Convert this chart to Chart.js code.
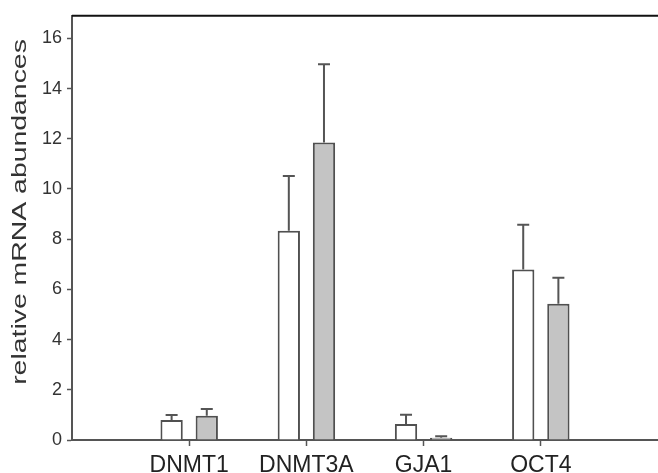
<!DOCTYPE html>
<html>
<head>
<meta charset="utf-8">
<script src="https://cdn.jsdelivr.net/npm/chart.js@4/dist/chart.umd.min.js"></script>
<style>
  html, body { margin: 0; padding: 0; background: #fff; overflow: hidden; }
  #wrap { position: relative; width: 664px; height: 473px; }
</style>
</head>
<body>
<div id="wrap"><canvas id="c"></canvas></div>
<script>
// ---- data ----
const categories = ['DNMT1', 'DNMT3A', 'GJA1', 'OCT4'];
const whiteValues = [0.80, 8.34, 0.64, 6.79];
const whiteErrors = [0.20, 2.18, 0.37, 1.79];
const grayValues  = [0.97, 11.85, 0.09, 5.43];
const grayErrors  = [0.27, 3.12, 0.06, 1.03];
const yTicks = [0, 2, 4, 6, 8, 10, 12, 14, 16];
const yTitle = 'relative mRNA abundances';

// padded slots so the category axis starts one slot before DNMT1
const axisLabels = [''].concat(categories, ['']);
const pad = arr => [null].concat(arr, [null]);

const errorBars = {
  id: 'errorBars',
  afterDatasetsDraw(chart) {
    const ctx = chart.ctx;
    const ys = chart.scales.y;
    chart.data.datasets.forEach((ds, di) => {
      const meta = chart.getDatasetMeta(di);
      meta.data.forEach((el, i) => {
        const v = ds.data[i];
        const e = ds.errors[i];
        if (v == null || e == null) return;
        const yTop = ys.getPixelForValue(v);
        const yCap = ys.getPixelForValue(v + e);
        ctx.save();
        ctx.strokeStyle = '#555';
        ctx.lineWidth = 2;
        ctx.beginPath();
        ctx.moveTo(el.x, yTop);
        ctx.lineTo(el.x, yCap);
        ctx.moveTo(el.x - 6, yCap);
        ctx.lineTo(el.x + 6, yCap);
        ctx.stroke();
        ctx.restore();
      });
    });
  }
};

const topBorder = {
  id: 'topBorder',
  afterDraw(chart) {
    const a = chart.chartArea;
    const ctx = chart.ctx;
    ctx.save();
    ctx.strokeStyle = '#111';
    ctx.lineWidth = 2;
    ctx.beginPath();
    ctx.moveTo(a.left, a.top);
    ctx.lineTo(a.right, a.top);
    ctx.stroke();
    ctx.restore();
  }
};

const stretchTitle = {
  id: 'stretchTitle',
  beforeDraw(chart) {
    const s = chart.scales.y;
    if (!s || s._stretchPatched) return;
    s._stretchPatched = true;
    const orig = s.drawTitle;
    s.drawTitle = function () {
      const ctx = this.ctx;
      const cy = (this.top + this.bottom) / 2;
      const k = 1.42, target = 212;
      ctx.save();
      ctx.translate(0, target - k * cy);
      ctx.scale(1, k);
      orig.apply(this, arguments);
      ctx.restore();
    };
  }
};

new Chart(document.getElementById('c'), {
  type: 'bar',
  data: {
    labels: axisLabels,
    datasets: [
      {
        label: 'white',
        data: pad(whiteValues),
        errors: pad(whiteErrors),
        backgroundColor: '#ffffff',
        borderColor: '#505050',
        borderWidth: 2,
        categoryPercentage: 0.6,
        barPercentage: 0.634
      },
      {
        label: 'gray',
        data: pad(grayValues),
        errors: pad(grayErrors),
        backgroundColor: '#c4c4c4',
        borderColor: '#505050',
        borderWidth: 2,
        categoryPercentage: 0.6,
        barPercentage: 0.634
      }
    ]
  },
  options: {
    responsive: true,
    maintainAspectRatio: false,
    animation: false,
    layout: { padding: { top: 13, left: 0, right: 0, bottom: 0 } },
    plugins: { legend: { display: false }, tooltip: { enabled: false } },
    scales: {
      x: {
        type: 'category',
        offset: false,
        grid: {
          offset: false,
          drawOnChartArea: false,
          drawTicks: true,
          tickLength: 6,
          tickWidth: 1.5,
          tickColor: ctx => (ctx.index === 0 || ctx.index === axisLabels.length - 1) ? 'rgba(0,0,0,0)' : '#555'
        },
        border: { display: true, color: '#555', width: 2 },
        ticks: {
          color: '#222',
          font: { family: '"Liberation Sans", Arial, sans-serif', size: 23 },
          padding: 6,
          maxRotation: 0,
          autoSkip: false
        },
        afterFit: s => { s.height = 33; }
      },
      y: {
        min: 0,
        max: 16.9,
        afterBuildTicks: s => { s.ticks = yTicks.map(v => ({ value: v })); },
        grid: {
          drawOnChartArea: false,
          drawTicks: true,
          tickLength: 5,
          tickWidth: 1.5,
          tickColor: '#555'
        },
        border: { display: true, color: '#555', width: 2 },
        ticks: {
          color: '#333',
          font: { family: '"Liberation Sans", Arial, sans-serif', size: 18 },
          padding: 5
        },
        title: {
          display: true,
          text: yTitle,
          color: '#333',
          font: { family: '"Liberation Sans", Arial, sans-serif', size: 20 },
          padding: { top: 8, bottom: 0 }
        },
        afterFit: s => { s.width = 72; }
      }
    }
  },
  plugins: [errorBars, topBorder, stretchTitle]
});
</script>
</body>
</html>
